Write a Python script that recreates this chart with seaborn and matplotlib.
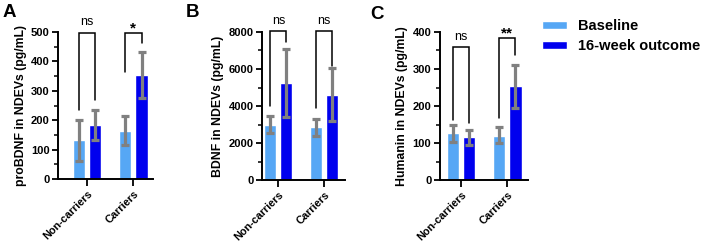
import numpy as np
import pandas as pd
import seaborn as sns
import matplotlib.pyplot as plt
from matplotlib.ticker import MultipleLocator

# Values
groups = ['Non-carriers', 'Carriers']
timepoints = ['Baseline', '16-week outcome']
colors = ['#56A7F5', '#0000EE']

# panel A: proBDNF
probdnf_mean = [132, 185, 165, 355]
probdnf_lo = [62, 133, 115, 275]
probdnf_hi = [200, 235, 215, 432]
# panel B: BDNF
bdnf_mean = [3000, 5250, 2850, 4620]
bdnf_lo = [2550, 3400, 2400, 3200]
bdnf_hi = [3480, 7100, 3280, 6050]
# panel C: Humanin
humanin_mean = [127, 115, 120, 255]
humanin_lo = [103, 95, 100, 195]
humanin_hi = [150, 135, 142, 312]

# brackets: top, left leg end, right leg end, label (per group)
probdnf_brackets = [(497, 235, 268, 'ns'), (497, 364, 463, '*')]
bdnf_brackets = [(8050, 4000, 7460, 'ns'), (8050, 3890, 6150, 'ns')]
humanin_brackets = [(359, 162, 155, 'ns'), (384, 168, 338, '**')]

panels = [
    ('A', 'proBDNF in NDEVs (pg/mL)', probdnf_mean, probdnf_lo, probdnf_hi, probdnf_brackets,
     500, 100, 50, [0.082, 0.266, 0.134, 0.603], (-0.62, 1.42)),
    ('B', 'BDNF in NDEVs (pg/mL)', bdnf_mean, bdnf_lo, bdnf_hi, bdnf_brackets,
     8000, 2000, 1000, [0.370, 0.262, 0.117, 0.607], (-0.36, 1.45)),
    ('C', 'Humanin in NDEVs (pg/mL)', humanin_mean, humanin_lo, humanin_hi, humanin_brackets,
     400, 100, 50, [0.621, 0.262, 0.125, 0.607], (-0.47, 1.45)),
]
letter_pos = [(0.003, 0.985), (0.262, 0.985), (0.523, 0.975)]

sns.set_style('ticks')
plt.rcParams['font.family'] = ['Liberation Sans', 'DejaVu Sans']
plt.rcParams['text.color'] = 'black'
plt.rcParams['axes.labelcolor'] = 'black'
plt.rcParams['xtick.color'] = 'black'
plt.rcParams['ytick.color'] = 'black'

fig = plt.figure(figsize=(7.08, 2.44), dpi=100)

for (letter, ylabel, means, lo, hi, brackets, ymax, major, minor, rect, xlim), lp in zip(panels, letter_pos):
    ax = fig.add_axes(rect)
    df = pd.DataFrame({
        'group': [g for g in groups for _ in timepoints],
        'time': [t for _ in groups for t in timepoints],
        'value': means,
    })
    sns.barplot(data=df, x='group', y='value', hue='time', order=groups, hue_order=timepoints,
                palette=colors, saturation=1, width=0.7, gap=0.25, errorbar=None,
                legend=(letter == 'A'), ax=ax)
    # bar centers from the drawn patches
    centers = {}
    for hi_idx, cont in enumerate(ax.containers):
        for gi, bar in enumerate(cont):
            centers[(gi, hi_idx)] = bar.get_x() + bar.get_width() / 2
    for gi in range(len(groups)):
        for ti in range(len(timepoints)):
            k = gi * len(timepoints) + ti
            ax.errorbar(centers[(gi, ti)], means[k],
                        yerr=[[means[k] - lo[k]], [hi[k] - means[k]]],
                        fmt='none', ecolor='#808080', elinewidth=2.3, capsize=3.2, capthick=2.3, zorder=3)
        top, lleg, rleg, lab = brackets[gi]
        x0, x1 = centers[(gi, 0)], centers[(gi, 1)]
        ax.plot([x0, x0, x1, x1], [lleg, top, top, rleg], color='black', lw=1.1,
                clip_on=False, solid_joinstyle='miter')
        if lab == 'ns':
            ax.text((x0 + x1) / 2, top + ymax * 0.03, lab, ha='center', va='bottom', fontsize=9)
        else:
            ax.text((x0 + x1) / 2, top - ymax * 0.02, lab, ha='center', va='bottom',
                    fontsize=11, fontweight='bold')
    if letter == 'A':
        handles, labels = ax.get_legend_handles_labels()
        ax.get_legend().remove()
        fig.legend(handles, labels, loc='upper left', bbox_to_anchor=(0.747, 0.975), frameon=False,
                   prop={'weight': 'bold', 'size': 10.5}, handlelength=1.7, handleheight=0.45,
                   handletextpad=0.8, labelspacing=0.4)
    ax.set_ylim(0, ymax)
    ax.set_xlim(*xlim)
    ax.yaxis.set_major_locator(MultipleLocator(major))
    ax.yaxis.set_minor_locator(MultipleLocator(minor))
    ax.set_xlabel('')
    ax.set_ylabel(ylabel, fontsize=8.8, fontweight='bold', labelpad=3)
    ax.set_xticks(range(len(groups)))
    ax.set_xticklabels(groups, rotation=45, ha='right', rotation_mode='anchor',
                       fontsize=7.8, fontweight='bold')
    for t in ax.get_yticklabels():
        t.set_fontweight('bold')
        t.set_fontsize(8)
    ax.tick_params(axis='both', which='major', length=4, width=1.3, color='black', pad=2)
    ax.tick_params(axis='y', which='minor', length=3, width=1.1, color='black')
    ax.tick_params(axis='x', which='major', length=5)
    for s in ['left', 'bottom']:
        ax.spines[s].set_linewidth(1.4)
        ax.spines[s].set_color('black')
    sns.despine(ax=ax)
    fig.text(lp[0], lp[1], letter, fontsize=13.5, fontweight='bold', ha='left', va='top')

fig.savefig('out.png', dpi=100)
